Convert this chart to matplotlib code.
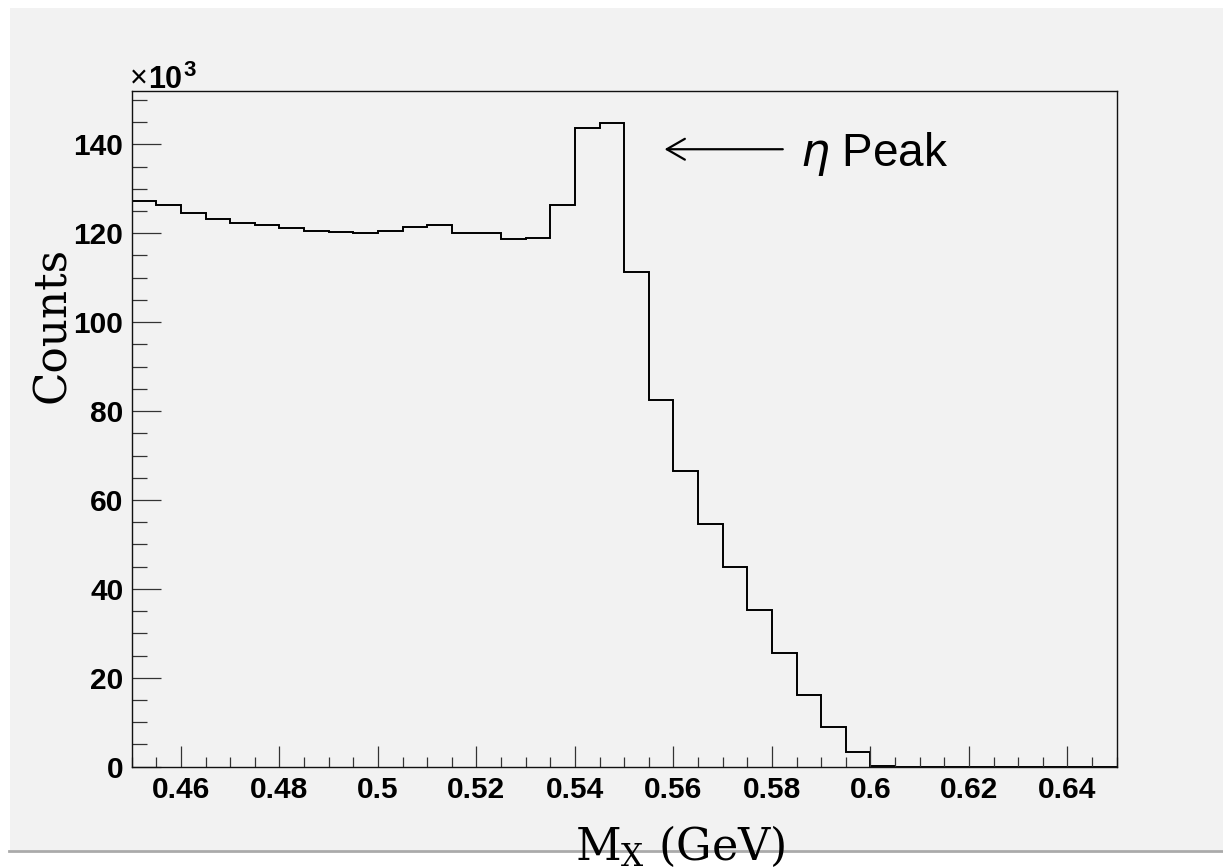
import numpy as np
import matplotlib
matplotlib.use("Agg")
import matplotlib.pyplot as plt
from matplotlib.ticker import MultipleLocator, FuncFormatter
from matplotlib.patches import Rectangle
from matplotlib.lines import Line2D

# ---- data (counts in units of 10^3), 40 bins of width 0.005 GeV from 0.45 to 0.65
x_min, x_max = 0.45, 0.65
counts_k = [127.2, 126.3, 124.6, 123.3, 122.3, 121.8, 121.2, 120.5, 120.2, 120.0,
            120.5, 121.5, 121.9, 120.1, 120.1, 118.7, 118.9, 126.3, 143.6, 144.9,
            111.3, 82.4, 66.5, 54.7, 44.9, 35.2, 25.6, 16.2, 8.9, 3.2,
            0.2, 0.0, 0.0, 0.0, 0.0, 0.0, 0.0, 0.0, 0.0, 0.0]
x_ticks = [0.46, 0.48, 0.50, 0.52, 0.54, 0.56, 0.58, 0.60, 0.62, 0.64]
y_ticks = [0, 20, 40, 60, 80, 100, 120, 140]
y_max = 152.0

W, H = 1223, 868
fig = plt.figure(figsize=(W / 100, H / 100), dpi=100, facecolor="white")

def fx(px):
    return px / W

def fy(py):
    return 1 - py / H

# grey canvas background with bottom border
bg = Rectangle((fx(10), fy(850)), 1 - fx(10), fy(8) - fy(850), transform=fig.transFigure,
               facecolor="#f2f2f2", edgecolor="none", zorder=-10)
fig.patches.append(bg)
fig.lines.append(Line2D([fx(9), 1], [fy(850.5), fy(850.5)], transform=fig.transFigure,
                        color="#aaaaaa", lw=2.0, zorder=-9))

ax = fig.add_axes([fx(131.7), fy(766.7), fx(1116.7) - fx(131.7), fy(91) - fy(766.7)])
ax.set_facecolor("#f2f2f2")

edges = np.linspace(x_min, x_max, len(counts_k) + 1)
ax.stairs(counts_k, edges, baseline=None, color="black", lw=1.4)

ax.set_xlim(x_min, x_max)
ax.set_ylim(0, y_max)

ax.set_xticks(x_ticks)
ax.set_yticks(y_ticks)
ax.xaxis.set_minor_locator(MultipleLocator(0.005))
ax.yaxis.set_minor_locator(MultipleLocator(5))
ax.xaxis.set_major_formatter(FuncFormatter(lambda v, p: f"{v:g}"))
ax.yaxis.set_major_formatter(FuncFormatter(lambda v, p: f"{v:g}"))

ax.tick_params(axis="both", which="both", direction="in", top=False, right=False,
               color="#333333", width=0.9)
ax.tick_params(axis="x", which="major", length=14.9, pad=7.0)
ax.tick_params(axis="x", which="minor", length=7.2)
ax.tick_params(axis="y", which="major", length=20.9, pad=6.0)
ax.tick_params(axis="y", which="minor", length=10.6)
for lab in ax.get_xticklabels() + ax.get_yticklabels():
    lab.set_fontfamily("Liberation Sans")
    lab.set_fontweight("bold")
    lab.set_fontsize(21.5)
for sp in ax.spines.values():
    sp.set_color("#111111")
    sp.set_linewidth(1.0)

# exponent label
fig.text(fx(130), fy(87.5), "\u00d7", fontsize=22, family="Liberation Sans",
         va="baseline", ha="left")
fig.text(fx(148.5), fy(87.5), "10", fontsize=22, family="Liberation Sans", fontweight="bold",
         va="baseline", ha="left")
fig.text(fx(183), fy(76), "3", fontsize=16, family="Liberation Sans", fontweight="bold",
         va="baseline", ha="left")

# axis titles
fig.text(fx(65), fy(325), "Counts", rotation=90, rotation_mode="anchor", fontsize=31.5,
         family="DejaVu Serif", ha="center", va="baseline")
fig.text(fx(680.5), fy(860), r"M$_{\mathrm{X}}$ (GeV)", fontsize=32, family="DejaVu Serif",
         math_fontfamily="dejavuserif", ha="center", va="baseline")

# annotation
ax.annotate("", xy=(0.5582, 138.9), xytext=(0.5822, 138.9),
            arrowprops=dict(arrowstyle="->,head_length=1.3,head_width=0.75",
                            lw=1.6, color="black", mutation_scale=10,
                            shrinkA=0, shrinkB=0))
ax.text(0.5856, 135.1, r"$\eta$ Peak", fontsize=33, family="Liberation Sans",
        math_fontfamily="dejavusans", ha="left", va="baseline")

fig.savefig("out.png", dpi=100, facecolor="white")
